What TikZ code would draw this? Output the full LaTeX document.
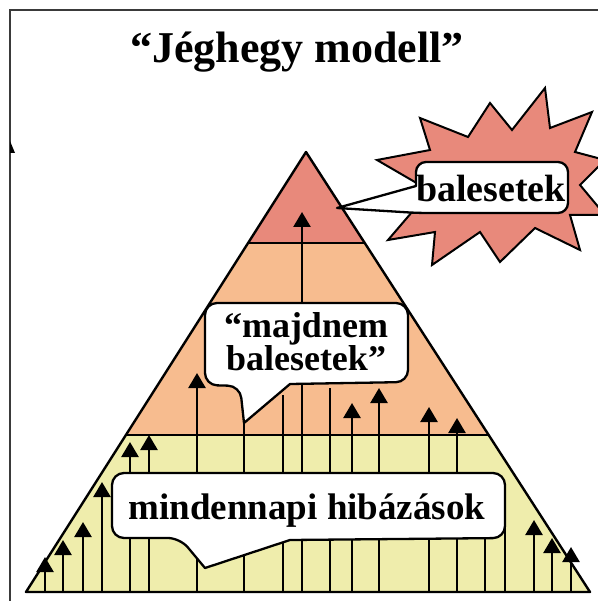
\documentclass[tikz,border=0pt]{standalone}
\usepackage{fontspec}
\setmainfont{Liberation Serif}
\usepackage{xcolor}
\usepackage{tikz}
\usetikzlibrary{arrows.meta,calc}
\definecolor{salmon}{HTML}{E8897B}
\definecolor{peach}{HTML}{F7BC8F}
\definecolor{lemon}{HTML}{EFEDAC}
\definecolor{framec}{HTML}{3A3A3A}
\tikzset{
  edge/.style={draw=black, line width=2.4pt, line join=round},
  stem/.style={draw=black, line width=2.5pt},
  arw/.style={stem, -{Triangle[length=15pt, width=17pt]}},
  bubble/.style={draw=black, fill=white, line width=2.3pt, line join=round},
  burst/.style={draw=black, fill=salmon, line width=2pt, line join=miter},
  lbl/.style={font=\bfseries, inner sep=0pt, anchor=base},
}
\begin{document}
\begin{tikzpicture}[x=1pt, y=-1pt]
  \useasboundingbox (0,0) rectangle (597,601);
  \draw[framec, line width=1.8pt] (10,610) -- (10,10) -- (610,10);
  \fill (10,141) -- (15,153) -- (10,153) -- cycle;
  \node[lbl, font=\fontsize{44}{48}\selectfont\bfseries] (title) at (297,63) {“Jéghegy modell”};
  % pyramid tiers
  \coordinate (apex) at (306,152);
  \coordinate (bl) at (26,592);
  \coordinate (br) at (590,592);
  \coordinate (tl) at ($(apex)!0.207!(bl)$);
  \coordinate (tr) at ($(apex)!0.207!(br)$);
  \coordinate (ml) at ($(apex)!0.643!(bl)$);
  \coordinate (mr) at ($(apex)!0.643!(br)$);
  \fill[lemon] (ml) -- (mr) -- (br) -- (bl) -- cycle;
  \fill[peach] (tl) -- (tr) -- (mr) -- (ml) -- cycle;
  \fill[salmon] (apex) -- (tr) -- (tl) -- cycle;
  \draw[edge] (tl) -- (tr);
  \draw[edge] (ml) -- (mr);
  % upward arrows and stems
  \draw[arw] (45,592) -- (45,557);
  \draw[arw] (63,592) -- (63,540);
  \draw[arw] (83,592) -- (83,522);
  \draw[arw] (102,592) -- (102,482);
  \draw[arw] (130,592) -- (130,442);
  \draw[arw] (149,592) -- (149,435);
  \draw[arw] (197,592) -- (197,373);
  \draw[stem] (244,592) -- (244,420);
  \draw[stem] (283,592) -- (283,395);
  \draw[arw] (302,592) -- (302,212);
  \draw[stem] (330,592) -- (330,388);
  \draw[arw] (352,592) -- (352,403);
  \draw[arw] (379,592) -- (379,388);
  \draw[arw] (429,592) -- (429,407);
  \draw[arw] (457,592) -- (457,418);
  \draw[stem] (485,592) -- (485,510);
  \draw[stem] (505,592) -- (505,510);
  \draw[arw] (534,592) -- (534,520);
  \draw[arw] (552,592) -- (552,538);
  \draw[arw] (571,592) -- (571,547);
  \draw[edge] (apex) -- (br) -- (bl) -- cycle;
  % starburst
  \draw[burst] (377,160) -- (430,150) -- (420,118) -- (468,137) -- (490,103)
    -- (512,130) -- (545,88) -- (550,128) -- (592,112) -- (575,152)
    -- (605,160) -- (580,185) -- (605,215) -- (570,215) -- (580,250)
    -- (535,228) -- (500,262) -- (480,232) -- (432,265) -- (435,232)
    -- (388,240) -- (412,212) -- (385,196) -- (420,185) -- cycle;
  % speech bubbles
  \draw[bubble] (337,208) -- (416,186) [rounded corners=10pt] -- (416,162)
    -- (568,162) -- (568,213) -- (418,213) [sharp corners] -- cycle;
  \node[lbl, font=\fontsize{38}{40}\selectfont\bfseries] (baleset) at (491,202) {balesetek};
  \draw[bubble] (244,423) -- (290,384) [rounded corners=12pt] -- (408,382)
    -- (408,303) -- (205,303) -- (205,385) -- (240,386) [sharp corners] -- cycle;
  \node[font=\fontsize{36}{33}\selectfont\bfseries, align=center, inner sep=0pt,
        anchor=base] (majdnem) at (306,370) {“majdnem\\balesetek”};
  \draw[bubble] (205,568) -- (290,540) [rounded corners=12pt] -- (505,538)
    -- (505,473) -- (112,473) -- (112,538) -- (180,538) [sharp corners] -- cycle;
  \node[lbl, font=\fontsize{37}{40}\selectfont\bfseries] (napi) at (307,519) {mindennapi hibázások};
\end{tikzpicture}
\end{document}
